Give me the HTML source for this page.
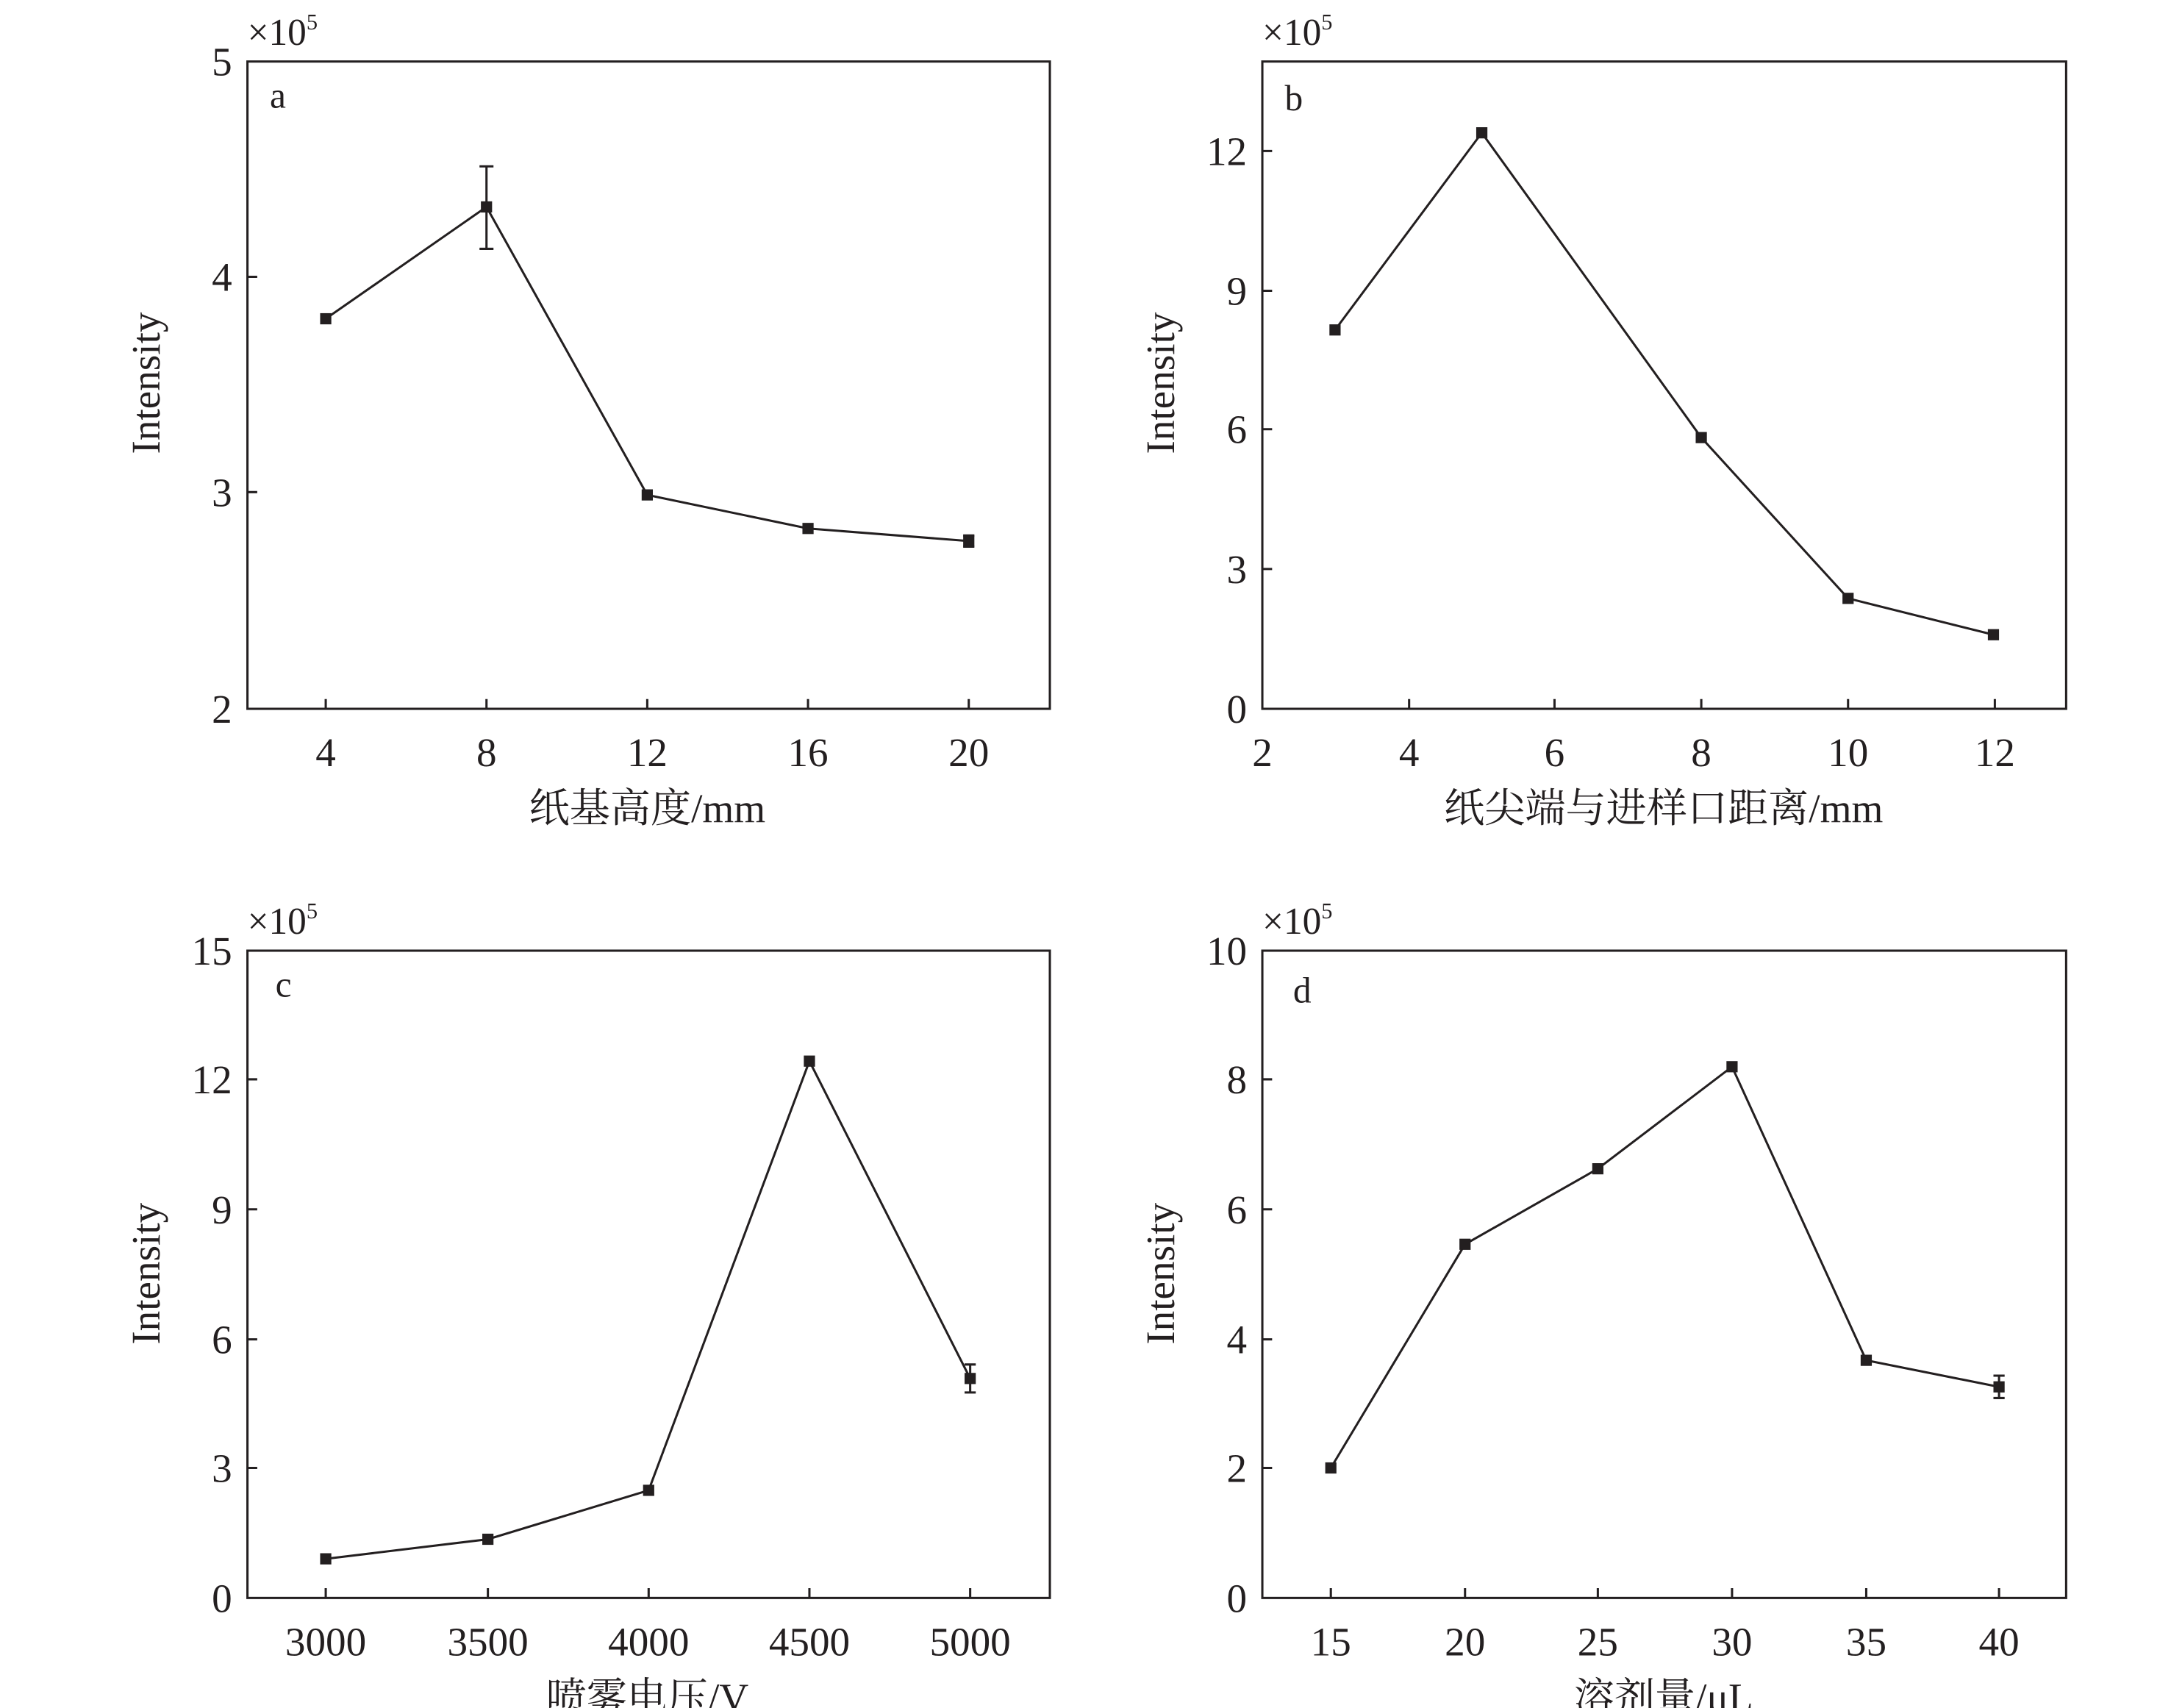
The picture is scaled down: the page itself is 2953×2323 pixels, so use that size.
<!DOCTYPE html>
<html><head><meta charset="utf-8"><style>
html,body{margin:0;padding:0;background:#fff}
svg{display:block}
text{font-family:"Liberation Serif","Noto Serif CJK SC",serif;fill:#231f20}
</style></head><body>
<svg width="2953" height="2323" viewBox="0 0 1553 1221.7" xmlns="http://www.w3.org/2000/svg">
<g stroke="#231f20" fill="none" stroke-width="1.6">
<rect x="177" y="44" width="574" height="463"/>
<rect x="903" y="44" width="575" height="463"/>
<rect x="177" y="680" width="574" height="463"/>
<rect x="903" y="680" width="575" height="463"/>
<path d="M177 198h7M177 352h7M233 507v-7M348 507v-7M463 507v-7M578 507v-7M693 507v-7"/>
<path d="M903 108h7M903 208h7M903 307h7M903 407h7M1008 507v-7M1112 507v-7M1217 507v-7M1322 507v-7M1427 507v-7"/>
<path d="M177 772h7M177 865h7M177 958h7M177 1050h7M233 1143v-7M349 1143v-7M464 1143v-7M579 1143v-7M694 1143v-7"/>
<path d="M903 772h7M903 865h7M903 958h7M903 1050h7M952 1143v-7M1048 1143v-7M1143 1143v-7M1239 1143v-7M1335 1143v-7M1430 1143v-7"/>
<polyline points="233,228 348,148 463,354 578,378 693,387"/>
<polyline points="955,236 1060,95 1217,313 1322,428 1426,454"/>
<polyline points="233,1115 349,1101 464,1066 579,759 694,986"/>
<polyline points="952,1050 1048,890 1143,836 1239,763 1335,973 1430,992"/>
<path d="M348 119V178M343 119h10M343 178h10"/>
<path d="M694 976V996M690 976h8M690 996h8"/>
<path d="M1430 984V1000M1426 984h8M1426 1000h8"/>
<path d="M693 383V391M689 383h8M689 391h8"/>
</g>
<g fill="#231f20">
<rect x="229" y="224" width="8" height="8"/><rect x="344" y="144" width="8" height="8"/><rect x="459" y="350" width="8" height="8"/><rect x="574" y="374" width="8" height="8"/><rect x="689" y="383" width="8" height="8"/>
<rect x="951" y="232" width="8" height="8"/><rect x="1056" y="91" width="8" height="8"/><rect x="1213" y="309" width="8" height="8"/><rect x="1318" y="424" width="8" height="8"/><rect x="1422" y="450" width="8" height="8"/>
<rect x="229" y="1111" width="8" height="8"/><rect x="345" y="1097" width="8" height="8"/><rect x="460" y="1062" width="8" height="8"/><rect x="575" y="755" width="8" height="8"/><rect x="690" y="982" width="8" height="8"/>
<rect x="948" y="1046" width="8" height="8"/><rect x="1044" y="886" width="8" height="8"/><rect x="1139" y="832" width="8" height="8"/><rect x="1235" y="759" width="8" height="8"/><rect x="1331" y="969" width="8" height="8"/><rect x="1426" y="988" width="8" height="8"/>
</g>
<g font-size="29" text-anchor="end">
<text x="166" y="54">5</text><text x="166" y="208">4</text><text x="166" y="362">3</text><text x="166" y="517">2</text>
<text x="892" y="118">12</text><text x="892" y="218">9</text><text x="892" y="317">6</text><text x="892" y="417">3</text><text x="892" y="517">0</text>
<text x="166" y="690">15</text><text x="166" y="782">12</text><text x="166" y="875">9</text><text x="166" y="968">6</text><text x="166" y="1060">3</text><text x="166" y="1153">0</text>
<text x="892" y="690">10</text><text x="892" y="782">8</text><text x="892" y="875">6</text><text x="892" y="968">4</text><text x="892" y="1060">2</text><text x="892" y="1153">0</text>
</g>
<g font-size="29" text-anchor="middle">
<text x="233" y="548">4</text><text x="348" y="548">8</text><text x="463" y="548">12</text><text x="578" y="548">16</text><text x="693" y="548">20</text>
<text x="903" y="548">2</text><text x="1008" y="548">4</text><text x="1112" y="548">6</text><text x="1217" y="548">8</text><text x="1322" y="548">10</text><text x="1427" y="548">12</text>
<text x="233" y="1184">3000</text><text x="349" y="1184">3500</text><text x="464" y="1184">4000</text><text x="579" y="1184">4500</text><text x="694" y="1184">5000</text>
<text x="952" y="1184">15</text><text x="1048" y="1184">20</text><text x="1143" y="1184">25</text><text x="1239" y="1184">30</text><text x="1335" y="1184">35</text><text x="1430" y="1184">40</text>
<text x="463" y="588">纸基高度/mm</text>
<text x="1190" y="588">纸尖端与进样口距离/mm</text>
<text x="463" y="1224">喷雾电压/V</text>
<text x="1190" y="1224">溶剂量/μL</text>
<text transform="translate(114,274) rotate(-90)">Intensity</text>
<text transform="translate(840,274) rotate(-90)">Intensity</text>
<text transform="translate(114,911) rotate(-90)">Intensity</text>
<text transform="translate(840,911) rotate(-90)">Intensity</text>
</g>
<g font-size="26">
<text x="193" y="77">a</text><text x="919" y="79">b</text><text x="197" y="713">c</text><text x="925" y="717">d</text>
</g>
<g font-size="27">
<text x="177" y="32">×10<tspan font-size="16" dy="-11">5</tspan></text>
<text x="903" y="32">×10<tspan font-size="16" dy="-11">5</tspan></text>
<text x="177" y="668">×10<tspan font-size="16" dy="-11">5</tspan></text>
<text x="903" y="668">×10<tspan font-size="16" dy="-11">5</tspan></text>
</g>
</svg>
</body></html>
